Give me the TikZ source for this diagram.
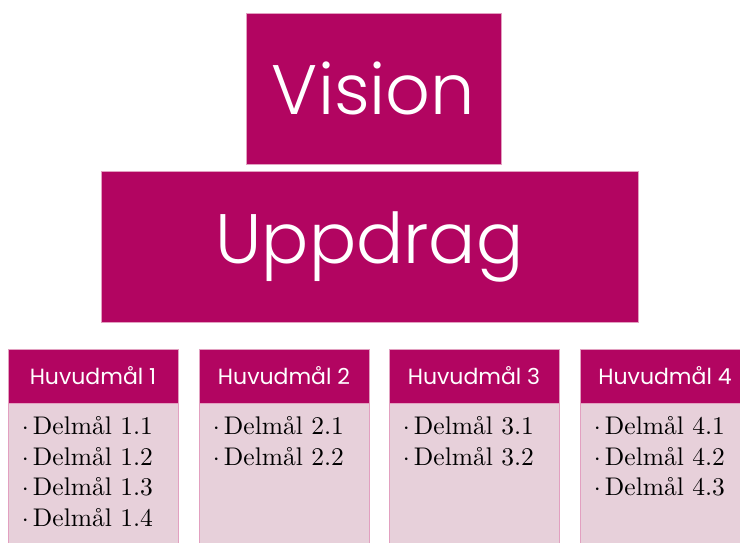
\documentclass[tikz,border=0pt]{standalone}
\usepackage{fontspec}
\newfontfamily\headfont{Poppins}
\newfontfamily\titlefont{Poppins Light}
\newfontfamily\listfont[Extension=.otf]{lmroman10-regular}
\definecolor{plum}{RGB}{178,5,97}
\definecolor{blush}{RGB}{231,208,218}
\definecolor{rim}{RGB}{226,160,192}
\begin{document}
\begin{tikzpicture}[x=1pt,y=-1pt,
    bigbox/.style={draw=rim, line width=0.8pt, fill=plum, text=white, inner sep=0pt,
        font=\titlefont\fontsize{70}{76}\selectfont},
    goalbox/.style={draw=rim, line width=0.8pt, fill=plum, text=white, inner sep=0pt,
        minimum width=170pt, minimum height=54pt, font=\headfont\fontsize{22}{26}\selectfont},
    subbox/.style={draw=rim, line width=0.8pt, fill=blush, inner sep=0pt,
        minimum width=170pt, minimum height=160pt, anchor=north},
    sublist/.style={anchor=north west, inner sep=0pt, align=left,
        font=\listfont\fontsize{25.5}{30.5}\selectfont}]
    \useasboundingbox (0,0) rectangle (740,542);
    \clip (0,0) rectangle (740,542);
			\node	(vision) at (373.5,88.5) [bigbox, minimum width=255pt, minimum height=151pt] {Vision};
			\node	(uppdrag) at (369.5,246.5) [bigbox, minimum width=537pt, minimum height=151pt] {Uppdrag};
			\node	(h1) at (93,376) [goalbox] {Huvudmål 1};
			\node	(h2) at (284,376) [goalbox] {Huvudmål 2};
			\node	(h3) at (474,376) [goalbox] {Huvudmål 3};
			\node	(h4) at (665,376) [goalbox] {Huvudmål 4};
			\node	(d1) at (h1.south) [subbox] {};
			\node	(d2) at (h2.south) [subbox] {};
			\node	(d3) at (h3.south) [subbox] {};
			\node	(d4) at (h4.south) [subbox] {};
			\node	(l1) at ([shift={(14pt,-13pt)}]d1.north west) [sublist] {$\cdot$\,Delmål 1.1\\$\cdot$\,Delmål 1.2\\$\cdot$\,Delmål 1.3\\$\cdot$\,Delmål 1.4};
			\node	(l2) at ([shift={(14pt,-13pt)}]d2.north west) [sublist] {$\cdot$\,Delmål 2.1\\$\cdot$\,Delmål 2.2};
			\node	(l3) at ([shift={(14pt,-13pt)}]d3.north west) [sublist] {$\cdot$\,Delmål 3.1\\$\cdot$\,Delmål 3.2};
			\node	(l4) at ([shift={(14pt,-13pt)}]d4.north west) [sublist] {$\cdot$\,Delmål 4.1\\$\cdot$\,Delmål 4.2\\$\cdot$\,Delmål 4.3};
		\end{tikzpicture}
\end{document}
